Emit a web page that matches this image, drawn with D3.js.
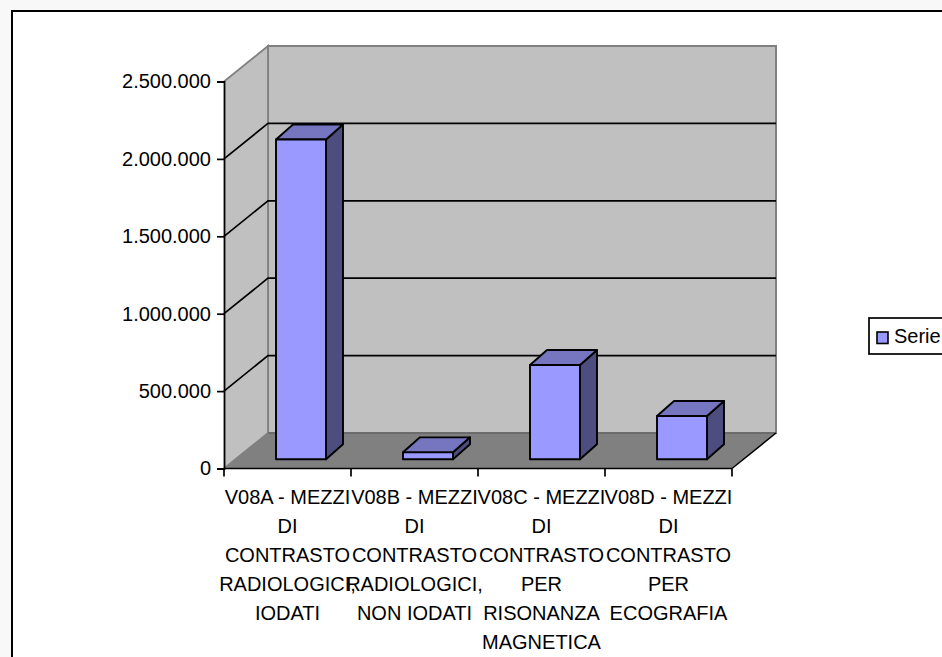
<!DOCTYPE html>
<html><head><meta charset="utf-8">
<script src="https://cdn.jsdelivr.net/npm/d3@7"></script>
<style>
html,body{margin:0;padding:0;background:#f8f8f8;overflow:hidden}
svg{display:block}
text{font-family:"Liberation Sans",Arial,sans-serif;font-size:20px;fill:#000}
</style></head><body>
<svg id="chart" width="942" height="657"></svg>
<script>
// Chart content
const categories = ["V08A - MEZZI DI CONTRASTO RADIOLOGICI, IODATI","V08B - MEZZI DI CONTRASTO RADIOLOGICI, NON IODATI","V08C - MEZZI DI CONTRASTO PER RISONANZA MAGNETICA","V08D - MEZZI DI CONTRASTO PER ECOGRAFIA"];
const categoryLines = [
  ["V08A - MEZZI","DI","CONTRASTO","RADIOLOGICI,","IODATI"],
  ["V08B - MEZZI","DI","CONTRASTO","RADIOLOGICI,","NON IODATI"],
  ["V08C - MEZZI","DI","CONTRASTO","PER","RISONANZA","MAGNETICA"],
  ["V08D - MEZZI","DI","CONTRASTO","PER","ECOGRAFIA"]
];
const values = [2066000, 45000, 609000, 280000];
const yTicks = [0, 500000, 1000000, 1500000, 2000000, 2500000];
const seriesName = "Serie";

const svg = d3.select("#chart");
const fmt = v => d3.format(",")(v).replace(/,/g, ".");

// Oblique projection: front plane of the box and its offset to the back wall
const plot = {left: 224, right: 732, top: 81.5, bottom: 468.5};
const depth = {dx: 44, dy: -35.5};
const y = d3.scaleLinear().domain([0, 2500000]).range([plot.bottom, plot.top]);
const x = d3.scaleBand().domain(d3.range(categories.length)).range([plot.left, plot.right]);
const bar = {width: 50, inset: 52, lift: 9.2, dx: 17, dy: -15};

const colors = {wall:"#c0c0c0", wallEdge:"#808080", floor:"#808080",
  front:"#9999ff", top:"#7676c0", side:"#4d4d80"};
const poly = pts => pts.map(p => p.join(",")).join(" ");

// Page frame
svg.append("rect").attr("x",12).attr("y",11).attr("width",960).attr("height",700)
  .attr("fill","#fff").attr("stroke","#000").attr("stroke-width",2);

// Back wall, side wall, floor
const bt = y(2500000), bb = y(0);
svg.append("polygon").attr("fill",colors.wall).attr("stroke",colors.wallEdge).attr("stroke-width",2)
  .attr("points",poly([[plot.left+depth.dx,bt+depth.dy],[plot.right+depth.dx,bt+depth.dy],[plot.right+depth.dx,bb+depth.dy],[plot.left+depth.dx,bb+depth.dy]]));
svg.append("polygon").attr("fill",colors.wall)
  .attr("points",poly([[plot.left,bt],[plot.left+depth.dx,bt+depth.dy],[plot.left+depth.dx,bb+depth.dy],[plot.left,bb]]));
svg.append("polygon").attr("fill",colors.floor)
  .attr("points",poly([[plot.left,bb],[plot.left+depth.dx,bb+depth.dy],[plot.right+depth.dx,bb+depth.dy],[plot.right,bb]]));

// Wall outlines
svg.append("path").attr("fill","none").attr("stroke",colors.wallEdge).attr("stroke-width",1.8)
  .attr("d",`M${plot.left},${bt}L${plot.left+depth.dx},${bt+depth.dy}V${bb+depth.dy}L${plot.left},${bb}`);
svg.append("path").attr("fill","none").attr("stroke","#666").attr("stroke-width",1.4)
  .attr("d",`M${plot.right+depth.dx},${bb+depth.dy}H${plot.left+depth.dx}`);

// Gridlines across both walls
yTicks.filter(t => t > 0 && t < 2500000).forEach(t => {
  svg.append("path").attr("fill","none").attr("stroke","#000").attr("stroke-width",1.7)
    .attr("d",`M${plot.left},${y(t)}L${plot.left+depth.dx},${y(t)+depth.dy}H${plot.right+depth.dx}`);
});

// Floor front-right edge
svg.append("path").attr("fill","none").attr("stroke","#000").attr("stroke-width",1.5)
  .attr("d",`M${plot.right},${bb}L${plot.right+depth.dx},${bb+depth.dy}`);

// Bars: front, top and side faces
values.forEach((v,i) => {
  const x0 = x(i) + bar.inset, x1 = x0 + bar.width;
  const yb = y(0) - bar.lift, yt = y(v) - bar.lift;
  const g = svg.append("g").attr("stroke","#000").attr("stroke-width",1.9).attr("stroke-linejoin","round");
  g.append("polygon").attr("fill",colors.side)
    .attr("points",poly([[x1,yt],[x1+bar.dx,yt+bar.dy],[x1+bar.dx,yb+bar.dy],[x1,yb]]));
  g.append("polygon").attr("fill",colors.top)
    .attr("points",poly([[x0,yt],[x0+bar.dx,yt+bar.dy],[x1+bar.dx,yt+bar.dy],[x1,yt]]));
  g.append("rect").attr("fill",colors.front).attr("x",x0).attr("y",yt).attr("width",bar.width).attr("height",yb-yt);
});

// Value axis
const yAxis = svg.append("g").attr("transform",`translate(${plot.left},0)`)
  .call(d3.axisLeft(y).tickValues(yTicks).tickSize(7).tickPadding(6).tickFormat(fmt));
yAxis.select(".domain").attr("stroke","#000").attr("stroke-width",1.8);
yAxis.selectAll(".tick line").attr("stroke","#000").attr("stroke-width",1.7);
yAxis.selectAll("text").style("font-size","20px").style("font-family",'"Liberation Sans",Arial,sans-serif');

// Category axis with one divider per band
const xEdges = d3.range(categories.length + 1).map(i => plot.left + i * x.bandwidth());
svg.append("path").attr("fill","none").attr("stroke","#000").attr("stroke-width",1.7)
  .attr("d",`M${plot.left},${bb}H${plot.right}`);
xEdges.forEach(e => svg.append("line").attr("x1",e).attr("x2",e).attr("y1",bb).attr("y2",bb+8)
  .attr("stroke","#000").attr("stroke-width",1.7));

// Wrapped category labels
categoryLines.forEach((lines,i) => {
  const cx = x(i) + x.bandwidth()/2;
  lines.forEach((s,j) => svg.append("text").attr("x",cx).attr("y",503.5+j*29)
    .attr("text-anchor","middle").text(s));
});

// Legend
svg.append("rect").attr("x",869).attr("y",318).attr("width",120).attr("height",36)
  .attr("fill","#fff").attr("stroke","#000").attr("stroke-width",1.7);
svg.append("rect").attr("x",877).attr("y",332).attr("width",11).attr("height",11.5)
  .attr("fill",colors.front).attr("stroke","#000").attr("stroke-width",1.6);
svg.append("text").attr("x",894).attr("y",343).text(seriesName);
</script></body></html>
